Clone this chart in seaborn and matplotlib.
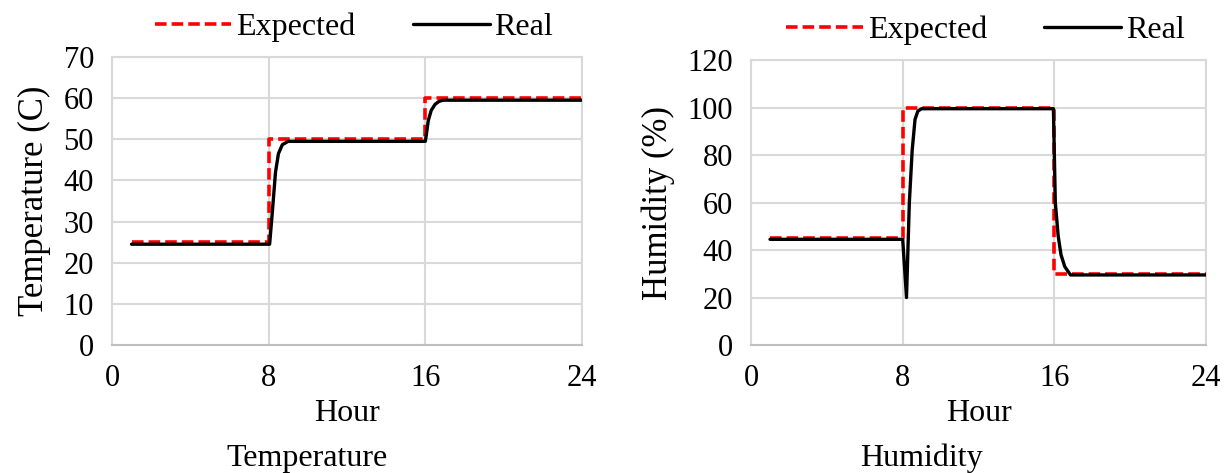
import matplotlib
matplotlib.use("Agg")
import matplotlib.pyplot as plt
import seaborn as sns
import pandas as pd

# ---- data ----
exp_hours = [1, 8, 8, 16, 16, 24]
exp_temp = [25, 25, 50, 50, 60, 60]
exp_hum = [45, 45, 100, 100, 30, 30]

real_temp_hours = [1, 8, 8.05, 8.2, 8.35, 8.5, 8.7, 9.0, 16, 16.05, 16.15, 16.3, 16.5, 16.7, 16.9, 24]
real_temp = [24.5, 24.5, 24.5, 33, 42, 46.5, 48.7, 49.5, 49.5, 51, 54.5, 57, 58.5, 59.2, 59.5, 59.5]

real_hum_hours = [1, 8, 8.2, 8.35, 8.5, 8.65, 8.8, 9.0, 15.95, 16.05, 16.2, 16.35, 16.55, 16.85, 24]
real_hum = [44.5, 44.5, 20, 60, 82, 95, 98.5, 99.5, 99.5, 60, 46, 38, 33, 29.5, 29.5]

x_ticks = [0, 8, 16, 24]
temp_ticks = [0, 10, 20, 30, 40, 50, 60, 70]
hum_ticks = [0, 20, 40, 60, 80, 100, 120]

sns.set_theme(style="white")
plt.rcParams['font.family'] = ['Liberation Serif', 'DejaVu Serif']
plt.rcParams['text.color'] = 'black'
plt.rcParams['axes.labelcolor'] = 'black'
FS_T = 22
FS = 23
FS_Y = 25

fig = plt.figure(figsize=(12.28, 4.73), dpi=100)
ax1 = fig.add_axes([0.0912, 0.2706, 0.3827, 0.6089])
ax2 = fig.add_axes([0.6116, 0.2706, 0.3705, 0.6025])

grid_c = "#d9d9d9"
red = "#ff0000"

def draw(ax, eh, ev, rh, rv, yticks, ylabel, title, tx):
    sns.lineplot(x=eh, y=ev, ax=ax, sort=False, estimator=None, color=red,
                 lw=2.6, dashes=False, label="Expected", zorder=3)
    ax.lines[-1].set_dashes((3.2, 1.4))
    sns.lineplot(x=rh, y=rv, ax=ax, sort=False, estimator=None, color="black",
                 lw=2.4, label="Real", zorder=4)
    ax.set_xlim(0, 24)
    ax.set_ylim(yticks[0], yticks[-1])
    ax.set_xticks(x_ticks)
    ax.set_yticks(yticks)
    ax.grid(True, color=grid_c, lw=1.5)
    for s in ax.spines.values():
        s.set_color(grid_c)
        s.set_linewidth(1.5)
    ax.spines['bottom'].set_color("#bfbfbf")
    ax.tick_params(axis="x", labelsize=FS_T, length=0, pad=14, colors="black")
    ax.tick_params(axis="y", labelsize=FS_T, length=0, pad=13, colors="black")
    ax.set_xlabel("Hour", fontsize=FS, labelpad=4)
    ax.set_ylabel(ylabel, fontsize=FS_Y, labelpad=9)
    ax.legend(loc="lower center", bbox_to_anchor=(0.515, 0.995), ncol=2,
              frameon=False, fontsize=FS, handlelength=2.4,
              columnspacing=1.8, handletextpad=0.15, borderaxespad=0.1)
    fig.text(tx, 0.0, title, ha="center", va="bottom", fontsize=FS)

draw(ax1, exp_hours, exp_temp, real_temp_hours, real_temp, temp_ticks,
     "Temperature (C)", "Temperature", 0.25)
draw(ax2, exp_hours, exp_hum, real_hum_hours, real_hum, hum_ticks,
     "Humidity (%)", "Humidity", 0.75)

fig.savefig("out.png", dpi=100)
